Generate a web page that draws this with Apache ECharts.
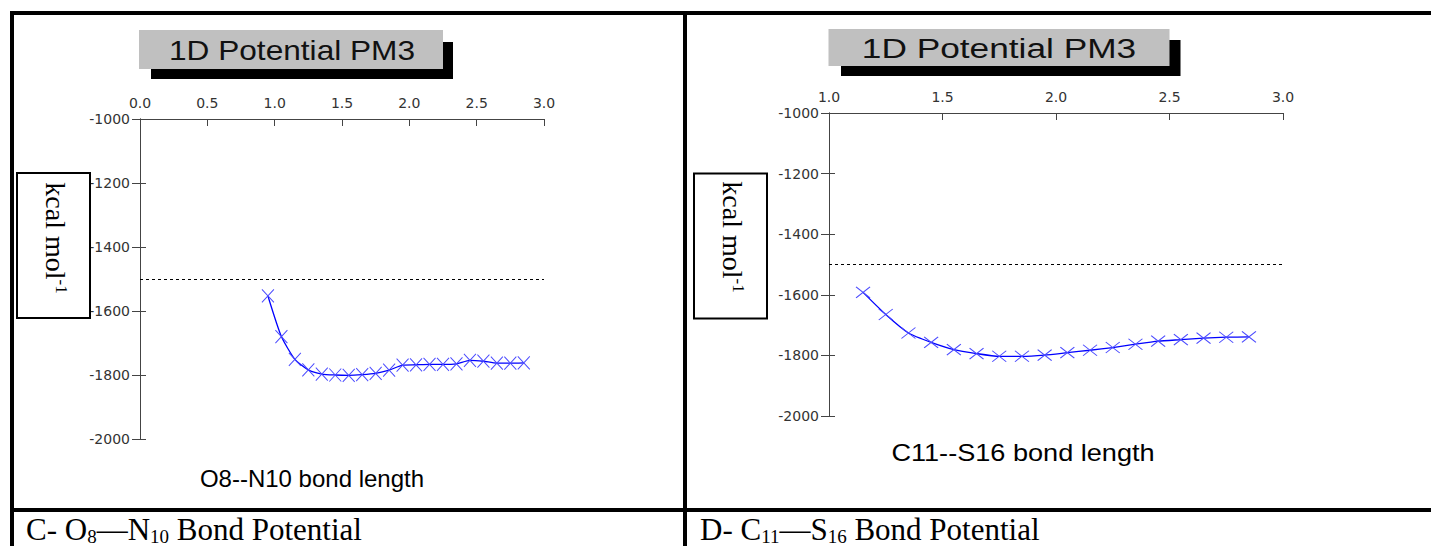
<!DOCTYPE html>
<html>
<head>
<meta charset="utf-8">
<script src="https://cdn.jsdelivr.net/npm/echarts@6/dist/echarts.min.js"></script>
<style>
html,body{margin:0;padding:0;background:#fff;}
#chart{width:1431px;height:546px;}
</style>
</head>
<body>
<div id="chart"></div>
<script>
// ---------- data ----------
const chartTitle = '1D Potential PM3';
const yUnitMain = 'kcal mol';
const yUnitSup = '-1';

// Panel C: O8--N10
const leftAxisTitle = 'O8--N10 bond length';
const leftXRange = [0, 3];
const leftBond = [0.95, 1.05, 1.15, 1.25, 1.35, 1.45, 1.55, 1.65, 1.75, 1.85,
                  1.95, 2.05, 2.15, 2.25, 2.35, 2.45, 2.55, 2.65, 2.75, 2.85];
const leftEnergy = [-1553, -1680, -1751, -1784, -1797, -1800, -1801, -1799, -1795, -1785,
                    -1769, -1768, -1767, -1767, -1765, -1754, -1757, -1763, -1763, -1762];
const leftCaption = [['C- O', false], ['8', true], ['\u2014N', false], ['10', true], [' Bond Potential', false]];

// Panel D: C11--S16
const rightAxisTitle = 'C11--S16 bond length';
const rightXRange = [1, 3];
const rightBond = [1.15, 1.25, 1.35, 1.45, 1.55, 1.65, 1.75, 1.85, 1.95,
                   2.05, 2.15, 2.25, 2.35, 2.45, 2.55, 2.65, 2.75, 2.85];
const rightEnergy = [-1592, -1665, -1726, -1757, -1781, -1794, -1803, -1803, -1799,
                     -1791, -1783, -1774, -1763, -1753, -1748, -1743, -1740, -1739];
const rightCaption = [['D- C', false], ['11', true], ['\u2014S', false], ['16', true], [' Bond Potential', false]];

const yRange = [-2000, -1000];
const xInterval = 0.5;
const yInterval = 200;
const referenceLevel = -1500;

// ---------- chart ----------
const chart = echarts.init(document.getElementById('chart'), null, {renderer: 'svg'});

const axisColor = '#444';
const tickFont = {fontFamily: 'DejaVu Sans', fontSize: 14, color: '#333'};
const xMarker = 'path://M0,0L10,10M10,0L0,10';

function xAxisCfg(gi, range) {
  return {
    type: 'value', gridIndex: gi, position: 'top',
    min: range[0], max: range[1], interval: xInterval,
    axisLine: {show: true, onZero: false, lineStyle: {color: axisColor, width: 1}},
    axisTick: {show: true, inside: true, length: 7, lineStyle: {color: axisColor}},
    axisLabel: Object.assign({margin: 9, formatter: v => v.toFixed(1)}, tickFont),
    splitLine: {show: false}
  };
}
function yAxisCfg(gi, withLabels) {
  return {
    type: 'value', gridIndex: gi, position: 'left',
    min: yRange[0], max: yRange[1], interval: yInterval,
    axisLine: {show: true, onZero: false, lineStyle: {color: axisColor, width: 1}},
    axisTick: {show: true, inside: !withLabels, length: withLabels ? 8 : 6, lineStyle: {color: axisColor}},
    axisLabel: Object.assign({show: withLabels, margin: 10, formatter: v => String(v)}, tickFont),
    splitLine: {show: false}
  };
}
function seriesCfg(idx, xs, ys, symSize) {
  return {
    type: 'line',
    xAxisIndex: idx, yAxisIndex: idx * 2,
    data: xs.map((x, i) => [x, ys[i]]),
    smooth: 0.2,
    showAllSymbol: true,
    symbol: xMarker,
    symbolSize: symSize,
    lineStyle: {color: '#0000ff', width: 1.3},
    itemStyle: {color: '#4a4aff', borderColor: '#4a4aff', borderWidth: 1},
    silent: true,
    z: 3,
    markLine: {
      silent: true,
      symbol: ['none', 'none'],
      label: {show: false},
      lineStyle: {type: [3, 3], color: '#000', width: 1},
      data: [{yAxis: referenceLevel}]
    }
  };
}

function titleGraphics(gx, gy, gw, gh, sx, sy, sw, sh, tx, ty, scale) {
  return [
    {type: 'rect', shape: {x: sx, y: sy, width: sw, height: sh}, style: {fill: '#000'}, z: 1},
    {type: 'rect', shape: {x: gx, y: gy, width: gw, height: gh}, style: {fill: '#c0c0c0'}, z: 2},
    {type: 'text', x: tx, y: ty, scaleX: scale, z: 3,
     style: {text: chartTitle, fontFamily: 'Liberation Sans, Arial', fontSize: 28, fill: '#111',
             align: 'center', verticalAlign: 'middle'}}
  ];
}
function unitBox(bx, by, bw, bh, tx, ty) {
  return [
    {type: 'rect', shape: {x: bx, y: by, width: bw, height: bh},
     style: {fill: '#fff', stroke: '#000', lineWidth: 2}, z: 2},
    {type: 'text', x: tx, y: ty, rotation: -Math.PI / 2, z: 3,
     style: {
       text: '{a|' + yUnitMain + '}{b|' + yUnitSup + '}',
       align: 'center', verticalAlign: 'middle',
       rich: {
         a: {fontFamily: 'Liberation Serif', fontSize: 28, lineHeight: 30, fill: '#000'},
         b: {fontFamily: 'Liberation Serif', fontSize: 17, lineHeight: 17, verticalAlign: 'top', fill: '#000'}
       }
     }}
  ];
}
const measureCtx = document.createElement('canvas').getContext('2d');
function caption(x0, baseline, parts) {
  const mainSize = 31, subSize = 19, subDrop = 3.5;
  const els = [];
  let x = x0;
  parts.forEach(p => {
    const size = p[1] ? subSize : mainSize;
    const bl = p[1] ? baseline + subDrop : baseline;
    measureCtx.font = size + 'px "Liberation Serif"';
    const w = measureCtx.measureText(p[0]).width;
    els.push({type: 'text', x: x, y: bl - 0.3375 * size, z: 3,
      style: {text: p[0], fontFamily: 'Liberation Serif', fontSize: size, fill: '#000',
              align: 'left', verticalAlign: 'middle'}});
    x += w;
  });
  return els;
}

const graphics = [].concat(
  // frame
  [{type: 'rect', shape: {x: 10, y: 11, width: 1421, height: 4}, style: {fill: '#000'}},
   {type: 'rect', shape: {x: 10, y: 11, width: 4, height: 535}, style: {fill: '#000'}},
   {type: 'rect', shape: {x: 683, y: 11, width: 4, height: 535}, style: {fill: '#000'}},
   {type: 'rect', shape: {x: 10, y: 508, width: 1421, height: 4}, style: {fill: '#000'}}],
  titleGraphics(139, 30, 304, 39, 151, 42, 302, 37, 292, 50, 1.13),
  titleGraphics(828.5, 29, 341, 37, 841, 40, 339.5, 36, 999, 48.5, 1.26),
  unitBox(17, 173, 73, 145, 55, 238),
  unitBox(694, 173.5, 73, 145, 732, 237),
  [{type: 'text', x: 312, y: 478, z: 3,
    style: {text: leftAxisTitle, fontFamily: 'Liberation Sans, Arial', fontSize: 24, fill: '#000',
            align: 'center', verticalAlign: 'middle'}},
   {type: 'text', x: 1023, y: 453, scaleX: 1.13, z: 3,
    style: {text: rightAxisTitle, fontFamily: 'Liberation Sans, Arial', fontSize: 24, fill: '#000',
            align: 'center', verticalAlign: 'middle'}}],
  caption(26, 539.5, leftCaption),
  caption(700, 539.5, rightCaption)
);

chart.setOption({
  animation: false,
  backgroundColor: '#fff',
  grid: [
    {left: 140, top: 119, width: 404, height: 320, containLabel: false, outerBoundsMode: 'none'},
    {left: 829, top: 113, width: 454, height: 303, containLabel: false, outerBoundsMode: 'none'}
  ],
  xAxis: [xAxisCfg(0, leftXRange), xAxisCfg(1, rightXRange)],
  yAxis: [yAxisCfg(0, true), yAxisCfg(0, false), yAxisCfg(1, true), yAxisCfg(1, false)],
  series: [
    seriesCfg(0, leftBond, leftEnergy, [12, 13]),
    seriesCfg(1, rightBond, rightEnergy, [14, 11])
  ],
  graphic: {elements: graphics}
});
</script>
</body>
</html>
